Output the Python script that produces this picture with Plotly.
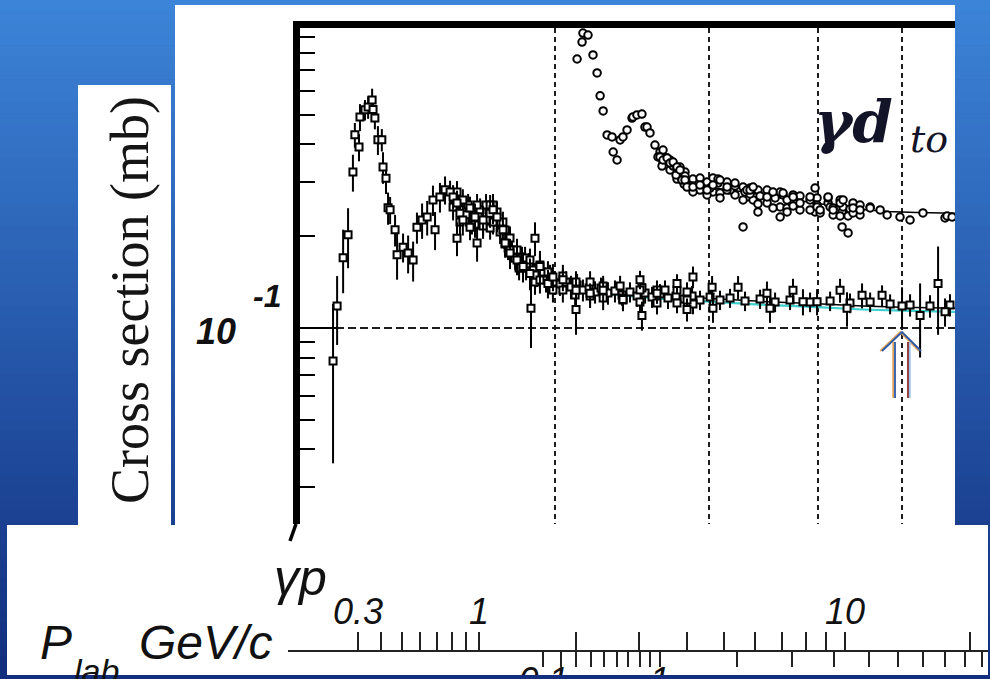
import math
import plotly.graph_objects as go

W, H = 990, 679


def fx(p):
    return p / W


def fy(p):
    return 1 - p / H


# ---------------- data ----------------
# gamma-p total cross section, sqrt(s) in GeV, sigma in mb
gp_sqrt_s = [1.113, 1.125, 1.143, 1.158, 1.173, 1.179, 1.192, 1.195, 1.211, 1.221,
             1.234, 1.237, 1.243, 1.253, 1.266, 1.270, 1.280, 1.287, 1.294, 1.311,
             1.318, 1.339, 1.357, 1.375, 1.389, 1.408, 1.427, 1.449, 1.457, 1.476,
             1.496, 1.516, 1.528, 1.544, 1.544, 1.556, 1.568, 1.598, 1.619, 1.628,
             1.654, 1.685, 1.698, 1.716, 1.743, 1.753, 1.776, 1.809, 1.838, 1.872,
             1.877, 1.897, 1.922, 1.963, 1.989, 2.042, 2.114, 2.114, 2.194, 2.271,
             2.393, 2.503, 2.516, 2.618, 2.760, 2.834, 2.879, 3.028, 3.035, 3.243,
             3.500, 3.528, 3.749, 3.849, 3.995, 4.245, 4.324, 4.499, 4.743, 5.000,
             5.244, 5.499, 5.601]
gp_sigma = [0.078, 0.118, 0.170, 0.202, 0.325, 0.430, 0.392, 0.492, 0.519, 0.530,
            0.559, 0.520, 0.488, 0.414, 0.414, 0.337, 0.310, 0.248, 0.244, 0.210,
            0.174, 0.184, 0.176, 0.167, 0.214, 0.226, 0.231, 0.263, 0.210, 0.269,
            0.284, 0.279, 0.269, 0.257, 0.197, 0.238, 0.226, 0.214, 0.231, 0.190,
            0.226, 0.238, 0.244, 0.231, 0.210, 0.190, 0.176, 0.167, 0.159, 0.151,
            0.116, 0.197, 0.159, 0.140, 0.147, 0.144, 0.133, 0.115, 0.130, 0.133,
            0.124, 0.144, 0.110, 0.130, 0.140, 0.115, 0.147, 0.136, 0.116, 0.136,
            0.130, 0.116, 0.133, 0.122, 0.122, 0.133, 0.116, 0.128, 0.128, 0.118,
            0.110, 0.140, 0.113]
gp_err = [0.042, 0.030, 0.040, 0.045, 0.045, 0.040, 0.040, 0.050, 0.040, 0.045,
          0.050, 0.040, 0.040, 0.045, 0.035, 0.040, 0.035, 0.030, 0.025, 0.025,
          0.030, 0.020, 0.025, 0.025, 0.025, 0.030, 0.030, 0.030, 0.030, 0.030,
          0.030, 0.025, 0.025, 0.025, 0.025, 0.025, 0.025, 0.020, 0.025, 0.025,
          0.025, 0.025, 0.025, 0.025, 0.020, 0.020, 0.020, 0.018, 0.018, 0.018,
          0.030, 0.025, 0.020, 0.015, 0.015, 0.012, 0.012, 0.020, 0.010, 0.012,
          0.010, 0.010, 0.012, 0.010, 0.010, 0.010, 0.012, 0.012, 0.012, 0.012,
          0.012, 0.012, 0.012, 0.012, 0.012, 0.012, 0.015, 0.012, 0.010, 0.018,
          0.030, 0.045, 0.012]

# the densely measured gamma-p band
gp_band_sqrt_s = [1.536, 1.548, 1.565, 1.581, 1.590, 1.606, 1.632, 1.641, 1.667, 1.676,
                  1.702, 1.720, 1.730, 1.748, 1.767, 1.785, 1.800, 1.819, 1.833, 1.853,
                  1.867, 1.887, 1.907, 1.932, 1.953, 1.974, 2.000, 2.026, 2.059, 2.086,
                  2.120, 2.153, 2.188, 2.223, 2.258, 2.300, 2.343, 2.387, 2.438, 2.484,
                  2.537, 2.584, 2.639, 2.695, 2.753, 2.812, 2.872, 2.933, 3.012, 3.092,
                  3.175, 3.303, 3.437, 3.576, 3.720, 3.922, 4.135, 4.358, 4.596, 4.845,
                  5.107, 5.383, 5.675,
                  1.685, 1.753, 1.819, 1.897, 1.989, 2.109, 2.271, 2.393, 2.503, 2.618,
                  2.760, 2.879,
                  1.698, 1.776, 1.848, 1.922, 2.042, 2.194, 2.375, 2.516, 2.674, 2.834,
                  1.528, 1.544, 1.556, 1.568, 1.598, 1.619, 1.628, 1.654, 1.685, 1.698,
                  1.716, 1.743, 1.753, 1.776, 1.809, 1.838, 1.872, 1.897, 1.922, 1.963,
                  1.989, 2.042, 2.114, 2.194, 2.271, 2.393, 2.503, 2.618, 2.760, 2.834]
gp_band_sigma = [0.263, 0.253, 0.244, 0.235, 0.253, 0.2226, 0.235, 0.244, 0.253, 0.226,
                 0.235, 0.2226, 0.2064, 0.2003, 0.1829, 0.1802, 0.1696, 0.1646, 0.1696, 0.1573,
                 0.1621, 0.1550, 0.1492, 0.1526, 0.1437, 0.1481, 0.1404, 0.1394, 0.1415, 0.1363,
                 0.1384, 0.1332, 0.1353, 0.1312, 0.1353, 0.1302, 0.1322, 0.1283, 0.1312, 0.1273,
                 0.1302, 0.1264, 0.1293, 0.1254, 0.1273, 0.1245, 0.1273, 0.1235, 0.1264, 0.1235,
                 0.1254, 0.1226, 0.1245, 0.1217, 0.1235, 0.1217, 0.1226, 0.1208, 0.1217, 0.1199,
                 0.1190, 0.1181, 0.1190,
                 0.2128, 0.1886, 0.1573, 0.1415, 0.1332, 0.1283, 0.1254, 0.1235, 0.1217, 0.1208,
                 0.1208, 0.1199,
                 0.253, 0.1972, 0.1696, 0.1609, 0.1481, 0.1415, 0.1373, 0.1353, 0.1332, 0.1312,
                 0.2493, 0.2792, 0.2226, 0.263, 0.2475, 0.2176, 0.253, 0.216, 0.253, 0.2226,
                 0.2401, 0.2226, 0.2096, 0.1802, 0.1802, 0.1573, 0.1671, 0.1492, 0.1437, 0.1526,
                 0.1415, 0.1332, 0.1415, 0.1273, 0.1373, 0.1254, 0.1332, 0.1332, 0.1332, 0.1235]
gp_band_err = [0.022, 0.022, 0.020, 0.020, 0.022, 0.020, 0.020, 0.022, 0.022, 0.020,
               0.020, 0.020, 0.018, 0.018, 0.016, 0.016, 0.015, 0.015, 0.015, 0.014,
               0.014, 0.014, 0.013, 0.013, 0.013, 0.013, 0.012, 0.012, 0.012, 0.012,
               0.012, 0.011, 0.011, 0.011, 0.011, 0.011, 0.011, 0.010, 0.010, 0.010,
               0.010, 0.010, 0.010, 0.010, 0.010, 0.010, 0.010, 0.009, 0.009, 0.009,
               0.009, 0.009, 0.009, 0.009, 0.009, 0.009, 0.009, 0.009, 0.009, 0.009,
               0.010, 0.010, 0.010,
               0.018, 0.016, 0.014, 0.013, 0.012, 0.011, 0.011, 0.010, 0.010, 0.010,
               0.009, 0.009,
               0.022, 0.018, 0.015, 0.014, 0.013, 0.012, 0.011, 0.010, 0.010, 0.010,
               0.024, 0.024, 0.022, 0.022, 0.022, 0.020, 0.022, 0.020, 0.020, 0.020,
               0.020, 0.018, 0.018, 0.016, 0.016, 0.015, 0.015, 0.014, 0.014, 0.013,
               0.013, 0.012, 0.012, 0.011, 0.011, 0.010, 0.010, 0.010, 0.010, 0.010]

# fitted curves through gamma-p
gp_fit_sqrt_s = [2.0, 2.3, 2.6, 3.0, 3.5, 4.0, 4.5, 5.0, 5.75]
gp_fit_sigma = [0.140, 0.132, 0.128, 0.125, 0.122, 0.120, 0.118, 0.117, 0.116]
gp_fit2_sigma = [0.137, 0.129, 0.125, 0.122, 0.119, 0.117, 0.115, 0.114, 0.113]

# gamma-d total cross section
gd_sqrt_s = [2.120, 2.148, 2.153, 2.182, 2.211, 2.235, 2.253, 2.271, 2.295, 2.325,
             2.332, 2.356, 2.375, 2.393, 2.419, 2.451, 2.457, 2.483, 2.516, 2.536,
             2.550, 2.570, 2.604, 2.625, 2.639, 2.653, 2.660, 2.689, 2.710, 2.732,
             2.760, 2.782, 2.797, 2.819, 2.834, 2.879, 2.933, 2.988, 3.035, 3.076,
             3.092, 3.150, 3.217, 3.286, 3.320, 3.347, 3.374, 3.418, 3.501, 3.556,
             3.624, 3.652, 3.691, 3.750, 3.819, 3.922, 3.974, 3.995, 4.027, 4.113,
             4.168, 4.246, 4.268, 4.279, 4.336, 4.393, 4.475, 4.596, 4.719, 4.807,
             4.973, 5.107, 5.284, 5.601, 5.631, 5.706]
gd_sigma = [0.762, 0.866, 0.927, 0.913, 0.786, 0.686, 0.577, 0.515, 0.4295, 0.423,
            0.3776, 0.3555, 0.4136, 0.423, 0.446, 0.488, 0.492, 0.4995, 0.503, 0.456,
            0.456, 0.436, 0.398, 0.3637, 0.3637, 0.3397, 0.3555, 0.3609, 0.3475, 0.3501,
            0.3372, 0.3296, 0.3055, 0.3055, 0.2899, 0.2899, 0.2942, 0.2834, 0.2942, 0.3078,
            0.3055, 0.2899, 0.2987, 0.2144, 0.2834, 0.2834, 0.2899, 0.2401, 0.2689, 0.2792,
            0.2312, 0.2771, 0.2629, 0.2689, 0.2570, 0.2689, 0.2877, 0.2493, 0.2438, 0.2689,
            0.2438, 0.2570, 0.2144, 0.2629, 0.2049, 0.2475, 0.2438, 0.2475, 0.2438, 0.2347,
            0.2312, 0.2260, 0.2383, 0.2295, 0.2330, 0.2312]
gd_band_sqrt_s = [2.639, 2.660, 2.689, 2.710, 2.732, 2.760, 2.782, 2.797, 2.819, 2.834,
                  2.879, 2.933, 2.988, 3.035, 3.076, 3.092, 3.150, 3.217, 3.286, 3.320,
                  3.347, 3.374, 3.418, 3.501, 3.556, 3.624, 3.652, 3.691, 3.750, 3.819,
                  3.922, 3.974, 3.995, 4.027, 4.113, 4.168, 4.246, 4.268, 4.279, 4.336,
                  4.393, 4.475, 4.596,
                  2.753, 2.812, 2.872, 3.012, 3.175, 3.303, 3.437, 3.576, 3.720, 4.135, 4.358,
                  2.660, 2.710, 2.760, 2.819, 2.879, 2.933, 2.988, 3.035, 3.092, 3.150,
                  3.217, 3.286, 3.347, 3.418, 3.501, 3.556, 3.624, 3.691, 3.750, 3.819,
                  3.922, 3.995, 4.113, 4.168, 4.246, 4.393, 4.475]
gd_band_sigma = [0.3776, 0.3475, 0.3609, 0.3296, 0.3397, 0.3078, 0.3372, 0.3055, 0.3247, 0.2942,
                 0.3078, 0.2834, 0.3009, 0.2792, 0.2987, 0.2771, 0.3009, 0.2730, 0.2899, 0.2689,
                 0.2877, 0.2629, 0.2834, 0.2570, 0.2771, 0.2493, 0.2730, 0.2475, 0.2730, 0.2438,
                 0.2629, 0.2401, 0.2669, 0.2383, 0.2570, 0.2347, 0.2629, 0.2401, 0.2493, 0.2330,
                 0.2570, 0.2347, 0.2493,
                 0.3175, 0.2965, 0.2921, 0.2877, 0.2834, 0.2792, 0.2708, 0.2669, 0.2609, 0.2493, 0.2456,
                 0.3833, 0.3555, 0.3346, 0.3150, 0.2792, 0.3103, 0.2730, 0.3103, 0.2669, 0.2834,
                 0.2921, 0.2629, 0.2750, 0.2551, 0.2834, 0.2475, 0.2792, 0.2401, 0.2512, 0.2708,
                 0.2438, 0.2531, 0.2669, 0.2475, 0.2330, 0.2383, 0.2531]
gd_fit_sqrt_s = [2.9, 3.2, 3.6, 4.0, 4.4, 4.8, 5.2, 5.75]
gd_fit_sigma = [0.292, 0.283, 0.268, 0.256, 0.246, 0.241, 0.239, 0.238]

# axis marks
grid_sqrt_s = [2, 3, 4, 5]
y_major = [0.1]
y_minor = [0.03, 0.04, 0.05, 0.06, 0.07, 0.08, 0.09,
           0.2, 0.3, 0.4, 0.5, 0.6, 0.7, 0.8, 0.9]

# lab-momentum scales (GeV/c)
M_P = 0.938272
M_D = 1.875613
gp_plab_ticks = [0.3, 0.4, 0.5, 0.6, 0.7, 0.8, 0.9, 1, 2, 3, 4, 5, 6, 7, 8, 9, 10, 20]
gp_plab_labels = [0.3, 1, 10]
gd_plab_ticks = [0.1, 0.2, 0.3, 0.4, 0.5, 0.6, 0.7, 0.8, 0.9, 1, 2, 3, 4, 5, 6, 7, 8, 9, 10]
gd_plab_labels = [0.1, 1, 10]


def sqrt_s(m, plab):
    return math.sqrt(m * m + 2 * m * plab)


def fmt(p):
    return ("%g" % p)


# ---------------- figure ----------------
fig = go.Figure()

fig.add_trace(go.Scatter(x=gp_fit_sqrt_s, y=gp_fit2_sigma, mode="lines",
                         line=dict(color="#3fd0d0", width=2.2), hoverinfo="skip"))
fig.add_trace(go.Scatter(x=gp_fit_sqrt_s, y=gp_fit_sigma, mode="lines",
                         line=dict(color="black", width=1.5), hoverinfo="skip"))
fig.add_trace(go.Scatter(x=gd_fit_sqrt_s, y=gd_fit_sigma, mode="lines",
                         line=dict(color="black", width=1.5), hoverinfo="skip"))

sq_marker = dict(symbol="square", size=7, color="white", line=dict(color="black", width=2))
fig.add_trace(go.Scatter(x=gp_band_sqrt_s, y=gp_band_sigma, mode="markers", marker=sq_marker,
                         error_y=dict(type="data", array=gp_band_err, color="black",
                                      thickness=2, width=0)))
fig.add_trace(go.Scatter(x=gp_sqrt_s, y=gp_sigma, mode="markers", marker=sq_marker,
                         error_y=dict(type="data", array=gp_err, color="black",
                                      thickness=2, width=0)))

ci_marker = dict(symbol="circle", size=7.5, color="white", line=dict(color="black", width=2))
fig.add_trace(go.Scatter(x=gd_band_sqrt_s, y=gd_band_sigma, mode="markers", marker=ci_marker))
fig.add_trace(go.Scatter(x=gd_sqrt_s, y=gd_sigma, mode="markers", marker=ci_marker))

# empty traces so that the lab-momentum axes get drawn
fig.add_trace(go.Scatter(x=[], y=[], xaxis="x2", yaxis="y2"))
fig.add_trace(go.Scatter(x=[], y=[], xaxis="x3", yaxis="y2"))
fig.add_trace(go.Scatter(x=[], y=[], xaxis="x4", yaxis="y2"))

# ---------------- background and panels ----------------
shapes = []
n = 60
top_c = (60, 132, 216)
bot_c = (18, 46, 126)
for i in range(n):
    t = i / (n - 1)
    c = tuple(int(top_c[k] + (bot_c[k] - top_c[k]) * t) for k in range(3))
    shapes.append(dict(type="rect", xref="paper", yref="paper", x0=0, x1=1,
                       y0=max(0, 1 - (i + 1.05) / n), y1=1 - i / n,
                       fillcolor="rgb(%d,%d,%d)" % c, line_width=0, layer="below"))
for (x0, y0, x1, y1) in [(175, 5, 955, 525), (78, 85, 171, 525), (7, 525, 988, 675)]:
    shapes.append(dict(type="rect", xref="paper", yref="paper",
                       x0=fx(x0), x1=fx(x1), y0=fy(y1), y1=fy(y0),
                       fillcolor="white", line_width=0, layer="below"))
# blue strip that cuts the lower scale labels
shapes.append(dict(type="rect", xref="paper", yref="paper", x0=0, x1=1, y0=0, y1=fy(675),
                   fillcolor="rgb(18,46,126)", line_width=0, layer="above"))
# glyph fragment under the frame
shapes.append(dict(type="line", xref="paper", yref="paper", x0=fx(296), y0=fy(524),
                   x1=fx(290), y1=fy(541), line=dict(color="black", width=3.5), layer="above"))
# double arrow
for dx, col in [(-1.8, "#e0a35a"), (0, "#2b58a8")]:
    shapes.append(dict(type="line", xref="paper", yref="paper", x0=fx(895 + dx), x1=fx(895 + dx),
                       y0=fy(398), y1=fy(342), line=dict(color=col, width=1.8), layer="above"))
    shapes.append(dict(type="path", xref="paper", yref="paper",
                       path="M %f,%f L %f,%f L %f,%f" % (fx(882 + dx), fy(351), fx(902 + dx), fy(332),
                                                       fx(921 + dx), fy(351)),
                       line=dict(color=col, width=1.8), layer="above"))
for dx, col in [(1.8, "#9cc4ea"), (0, "#8a2f2f")]:
    shapes.append(dict(type="line", xref="paper", yref="paper", x0=fx(908 + dx), x1=fx(908 + dx),
                       y0=fy(398), y1=fy(342), line=dict(color=col, width=1.8), layer="above"))

# ---------------- text ----------------
ann = []


def note(text, x, y, font, xanchor="center", xref="paper", **kw):
    d = dict(text=text, xref=xref, yref="paper", x=x, y=y, xanchor=xanchor, yanchor="middle",
             showarrow=False, font=font)
    d.update(kw)
    ann.append(d)


note("Cross section (mb)", fx(130), fy(300),
     dict(family="Liberation Serif", size=54, color="#151515"), textangle=-90)
note("10", fx(216), fy(331),
     dict(family="Liberation Sans", size=36, color="#111", weight="bold", style="italic"))
note("-1", fx(267), fy(296),
     dict(family="Liberation Sans", size=32, color="#111", weight="bold", style="italic"))
note("γd", fx(812), fy(122),
     dict(family="DejaVu Serif", size=58, color="#141428", weight="bold", style="italic"),
     xanchor="left")
note("to", fx(908), fy(139),
     dict(family="DejaVu Serif", size=38, color="#141428", style="italic"), xanchor="left")

bfont = dict(family="Liberation Sans", color="#111", style="italic")
note("γp", fx(300), fy(578), dict(bfont, size=50))
note("P", fx(56), fy(642), dict(bfont, size=48))
note("lab", fx(72), fy(671), dict(bfont, size=34), xanchor="left")
note("GeV/c", fx(137), fy(642), dict(bfont, size=48), xanchor="left")
for p in gp_plab_labels:
    note(fmt(p), math.log10(sqrt_s(M_P, p)), fy(611), dict(bfont, size=36), xref="x2")

# ---------------- layout ----------------
fig.update_layout(
    template="none",
    width=W, height=H, autosize=False,
    margin=dict(l=0, r=0, t=0, b=0, pad=0),
    paper_bgcolor="rgb(40,90,180)",
    plot_bgcolor="rgba(0,0,0,0)",
    showlegend=False,
    shapes=shapes,
    annotations=ann,
    xaxis=dict(type="log", range=[0.0086, 0.7597], domain=[fx(300), fx(955)],
               anchor="y", side="top", showline=True, linewidth=7, linecolor="black",
               tickvals=grid_sqrt_s, ticks="", showticklabels=False, automargin=False,
               showgrid=True, gridcolor="#1e1e1e", gridwidth=1.8, griddash="5px,4px",
               zeroline=False),
    yaxis=dict(type="log", range=[-1.6426, -0.0164], domain=[fy(524), fy(28)],
               anchor="x", showline=True, linewidth=7, linecolor="black", automargin=False,
               tickvals=y_major, ticks="inside", ticklen=36, tickwidth=1.6, tickcolor="black",
               showticklabels=False, showgrid=True, gridcolor="#1e1e1e", gridwidth=1.8,
               griddash="8px,4px", zeroline=False,
               minor=dict(tickvals=y_minor, ticks="inside", ticklen=15, tickwidth=2,
                          tickcolor="black", showgrid=False)),
    xaxis2=dict(type="log", range=[-0.0024, 0.8130], domain=[fx(288), fx(988)],
                anchor="y2", side="bottom", showline=True, linewidth=2, linecolor="#222",
                tickvals=[sqrt_s(M_P, p) for p in gp_plab_ticks], ticks="inside",
                ticklen=18, tickwidth=2, tickcolor="#222", showticklabels=False,
                showgrid=False, zeroline=False, automargin=False),
    xaxis3=dict(type="log", range=[-0.0024, 0.8130], overlaying="x2",
                anchor="y2", side="bottom", showline=False, automargin=False,
                tickvals=[sqrt_s(M_D, p) for p in gd_plab_ticks],
                ticks="outside", ticklen=16, tickwidth=2, tickcolor="#222",
                showticklabels=False, showgrid=False, zeroline=False),
    xaxis4=dict(type="log", range=[-0.0024, 0.8130], overlaying="x2",
                anchor="free", position=fy(656), side="bottom", showline=False,
                automargin=False, ticks="",
                tickvals=[sqrt_s(M_D, p) for p in gd_plab_ticks],
                ticktext=[fmt(p) if p in gd_plab_labels else "" for p in gd_plab_ticks],
                tickfont=dict(bfont, size=36), showgrid=False, zeroline=False),
    yaxis2=dict(domain=[fy(650), fy(600)], range=[0, 1], visible=False, anchor="x2",
                automargin=False),
)

fig.write_html("out.html")
